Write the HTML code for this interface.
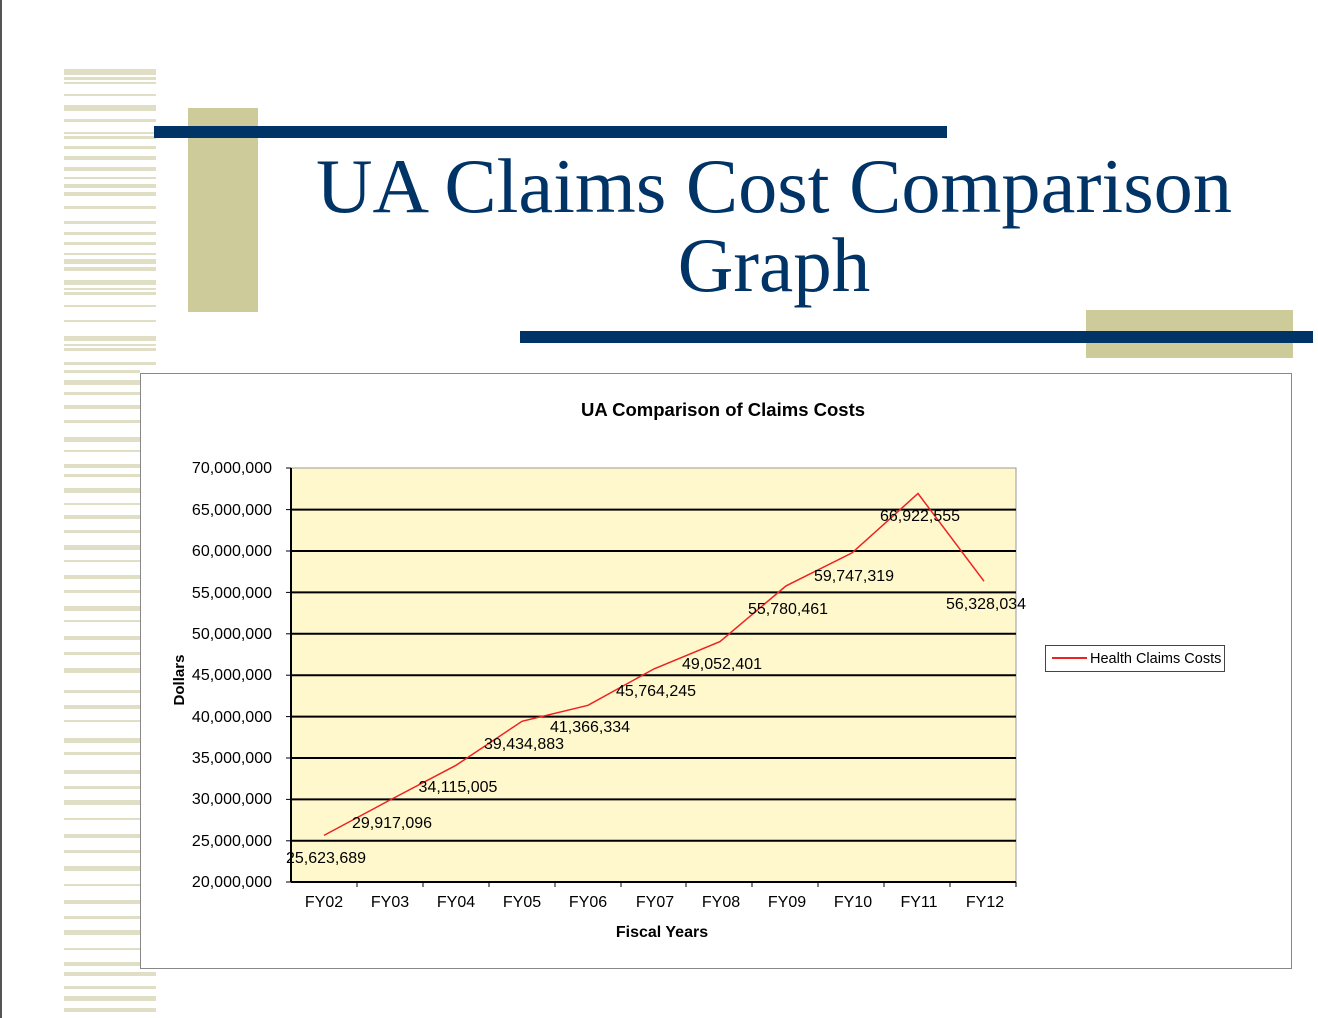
<!DOCTYPE html>
<html><head><meta charset="utf-8"><style>
body{margin:0;background:#fff;width:1318px;height:1018px;overflow:hidden;position:relative;font-family:"Liberation Sans",sans-serif}
.a{position:absolute}
</style></head><body>
<div class="a" style="left:0;top:0;width:2px;height:1018px;background:#555"></div>
<svg class="a" style="left:0;top:0" width="1318" height="1018">
<g fill="#e0dfc6">
<rect x="64" y="69" width="92" height="6"/><rect x="64" y="77" width="92" height="3"/><rect x="64" y="82" width="92" height="2"/>
<rect x="64" y="94" width="92" height="2"/><rect x="64" y="105" width="92" height="6"/><rect x="64" y="119" width="92" height="3"/>
<rect x="64" y="132" width="92" height="2"/><rect x="64" y="136" width="92" height="3"/><rect x="64" y="146" width="92" height="3"/>
<rect x="64" y="156" width="92" height="4"/><rect x="64" y="167" width="92" height="4"/><rect x="64" y="177" width="92" height="2"/>
<rect x="64" y="184" width="92" height="4"/><rect x="64" y="192" width="92" height="4"/><rect x="64" y="206" width="92" height="3"/>
<rect x="64" y="221" width="92" height="3"/><rect x="64" y="232" width="92" height="3"/><rect x="64" y="242" width="92" height="3"/>
<rect x="64" y="253" width="92" height="2"/><rect x="64" y="259" width="92" height="5"/><rect x="64" y="267" width="92" height="4"/>
<rect x="64" y="280" width="92" height="5"/><rect x="64" y="288" width="92" height="2"/><rect x="64" y="292" width="92" height="3"/>
<rect x="64" y="305" width="92" height="2"/><rect x="64" y="320" width="92" height="2"/><rect x="64" y="336" width="92" height="5"/>
<rect x="64" y="344" width="92" height="2"/><rect x="64" y="348" width="92" height="3"/><rect x="64" y="362" width="92" height="3"/>
</g>
<g fill="#e0dfc6">
<rect x="64" y="370" width="76" height="3"/><rect x="64" y="380" width="76" height="5"/><rect x="64" y="392" width="76" height="3"/>
<rect x="64" y="405" width="76" height="4"/><rect x="64" y="420" width="76" height="3"/><rect x="64" y="437" width="76" height="5"/>
<rect x="64" y="450" width="76" height="2"/><rect x="64" y="464" width="76" height="4"/><rect x="64" y="474" width="76" height="3"/>
<rect x="64" y="488" width="76" height="5"/><rect x="64" y="503" width="76" height="2"/><rect x="64" y="515" width="76" height="4"/>
<rect x="64" y="530" width="76" height="3"/><rect x="64" y="545" width="76" height="5"/><rect x="64" y="560" width="76" height="2"/>
<rect x="64" y="575" width="76" height="4"/><rect x="64" y="590" width="76" height="3"/><rect x="64" y="606" width="76" height="5"/>
<rect x="64" y="620" width="76" height="2"/><rect x="64" y="636" width="76" height="4"/><rect x="64" y="652" width="76" height="3"/>
<rect x="64" y="668" width="76" height="5"/><rect x="64" y="690" width="76" height="3"/><rect x="64" y="705" width="76" height="4"/>
<rect x="64" y="720" width="76" height="2"/><rect x="64" y="738" width="76" height="5"/><rect x="64" y="752" width="76" height="3"/>
<rect x="64" y="770" width="76" height="4"/><rect x="64" y="786" width="76" height="3"/><rect x="64" y="800" width="76" height="5"/>
<rect x="64" y="818" width="76" height="2"/><rect x="64" y="834" width="76" height="4"/><rect x="64" y="850" width="76" height="3"/>
<rect x="64" y="866" width="76" height="5"/><rect x="64" y="884" width="76" height="2"/><rect x="64" y="900" width="76" height="4"/>
<rect x="64" y="916" width="76" height="3"/><rect x="64" y="930" width="76" height="5"/><rect x="64" y="948" width="76" height="2"/>
<rect x="64" y="962" width="76" height="4"/><rect x="64" y="972" width="92" height="4"/><rect x="64" y="986" width="92" height="3"/>
<rect x="64" y="996" width="92" height="5"/><rect x="64" y="1008" width="92" height="4"/>
</g>
<rect x="188" y="108" width="70" height="204" fill="#cdcb9a"/>
<rect x="154" y="126" width="793" height="12" fill="#003366"/>
<rect x="1086" y="310" width="207" height="48" fill="#cdcb9a"/>
<rect x="520" y="331" width="793" height="12" fill="#003366"/>
<text x="774" y="212" font-family="Liberation Serif,serif" font-size="77" fill="#003366" text-anchor="middle" textLength="916" lengthAdjust="spacingAndGlyphs">UA Claims Cost Comparison</text>
<text x="774" y="291" font-family="Liberation Serif,serif" font-size="77" fill="#003366" text-anchor="middle">Graph</text>
<rect x="140.5" y="373.5" width="1151" height="595" fill="#fff" stroke="#888"/>
<text x="723" y="416" font-size="18.5" font-weight="bold" text-anchor="middle">UA Comparison of Claims Costs</text>
<rect x="291" y="468" width="725" height="414" fill="#fff8cc" stroke="#999"/>
<g stroke="#000" stroke-width="2">
<line x1="291" y1="509.6" x2="1016" y2="509.6"/><line x1="291" y1="551" x2="1016" y2="551"/><line x1="291" y1="592.4" x2="1016" y2="592.4"/>
<line x1="291" y1="633.8" x2="1016" y2="633.8"/><line x1="291" y1="675.2" x2="1016" y2="675.2"/><line x1="291" y1="716.6" x2="1016" y2="716.6"/>
<line x1="291" y1="758" x2="1016" y2="758"/><line x1="291" y1="799.4" x2="1016" y2="799.4"/><line x1="291" y1="840.8" x2="1016" y2="840.8"/>
<line x1="291" y1="882" x2="1016" y2="882"/><line x1="291" y1="468" x2="291" y2="882"/>
</g>
<g stroke="#000" stroke-width="1">
<line x1="286" y1="468" x2="291" y2="468"/><line x1="286" y1="509.6" x2="291" y2="509.6"/><line x1="286" y1="551" x2="291" y2="551"/><line x1="286" y1="592.4" x2="291" y2="592.4"/><line x1="286" y1="633.8" x2="291" y2="633.8"/><line x1="286" y1="675.2" x2="291" y2="675.2"/><line x1="286" y1="716.6" x2="291" y2="716.6"/><line x1="286" y1="758" x2="291" y2="758"/><line x1="286" y1="799.4" x2="291" y2="799.4"/><line x1="286" y1="840.8" x2="291" y2="840.8"/><line x1="286" y1="882" x2="291" y2="882"/>
<line x1="357" y1="882" x2="357" y2="887"/><line x1="423" y1="882" x2="423" y2="887"/><line x1="489" y1="882" x2="489" y2="887"/><line x1="555" y1="882" x2="555" y2="887"/><line x1="621" y1="882" x2="621" y2="887"/><line x1="686" y1="882" x2="686" y2="887"/><line x1="752" y1="882" x2="752" y2="887"/><line x1="818" y1="882" x2="818" y2="887"/><line x1="884" y1="882" x2="884" y2="887"/><line x1="950" y1="882" x2="950" y2="887"/><line x1="1016" y1="882" x2="1016" y2="887"/>
</g>
<g font-size="16" text-anchor="end" fill="#000">
<text x="272" y="473">70,000,000</text><text x="272" y="515">65,000,000</text><text x="272" y="556">60,000,000</text><text x="272" y="598">55,000,000</text><text x="272" y="639">50,000,000</text><text x="272" y="680">45,000,000</text><text x="272" y="722">40,000,000</text><text x="272" y="763">35,000,000</text><text x="272" y="804">30,000,000</text><text x="272" y="846">25,000,000</text><text x="272" y="887">20,000,000</text>
</g>
<g font-size="16" text-anchor="middle">
<text x="324" y="907">FY02</text><text x="390" y="907">FY03</text><text x="456" y="907">FY04</text><text x="522" y="907">FY05</text><text x="588" y="907">FY06</text><text x="655" y="907">FY07</text><text x="721" y="907">FY08</text><text x="787" y="907">FY09</text><text x="853" y="907">FY10</text><text x="919" y="907">FY11</text><text x="985" y="907">FY12</text>
</g>
<text x="662" y="937" font-size="16" font-weight="bold" text-anchor="middle">Fiscal Years</text>
<text x="184" y="680" font-size="15" font-weight="bold" text-anchor="middle" transform="rotate(-90 184 680)">Dollars</text>
<polyline fill="none" stroke="#ee2222" stroke-width="1.5" points="324,835.4 390,800 456,765.3 522,721.3 588,705.3 654,668.9 720,641.6 786,585.9 852,552.9 918,493.5 984,581.2"/>
<g font-size="16" text-anchor="middle">
<text x="326" y="863">25,623,689</text><text x="392" y="828">29,917,096</text><text x="458" y="792">34,115,005</text><text x="524" y="749">39,434,883</text><text x="590" y="732">41,366,334</text><text x="656" y="696">45,764,245</text><text x="722" y="669">49,052,401</text><text x="788" y="614">55,780,461</text><text x="854" y="581">59,747,319</text><text x="920" y="521">66,922,555</text><text x="986" y="609">56,328,034</text>
</g>
<rect x="1045.5" y="645.5" width="179" height="26" fill="#fff" stroke="#444"/>
<line x1="1052" y1="658" x2="1087" y2="658" stroke="#ee2222" stroke-width="2"/>
<text x="1090" y="663" font-size="14.5">Health Claims Costs</text>
</svg>
</body></html>
